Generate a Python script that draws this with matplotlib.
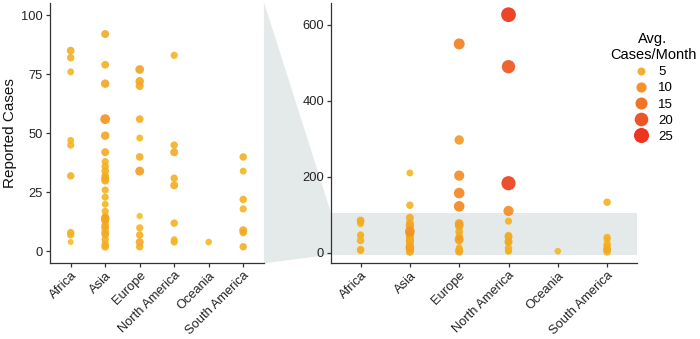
import numpy as np
import matplotlib
matplotlib.use('Agg')
import matplotlib.pyplot as plt
from matplotlib.colors import LinearSegmentedColormap, Normalize
from matplotlib.lines import Line2D
from matplotlib.patches import Polygon, Rectangle

plt.rcParams['font.family'] = ['Liberation Sans', 'DejaVu Sans']

# --- data ------------------------------------------------------------------
continents = ['Africa', 'Asia', 'Europe', 'North America', 'Oceania', 'South America']

point_continent = (
    ['Africa'] * 9
    + ['Asia'] * 28
    + ['Europe'] * 17
    + ['North America'] * 12
    + ['Oceania'] * 1
    + ['South America'] * 8
)
reported_cases = [
    # Africa
    85, 82, 76, 47, 45, 32, 8, 7, 4,
    # Asia
    210, 125, 92, 79, 71, 56, 49, 42, 38, 36, 34, 32, 31, 30, 26, 23, 20,
    17, 15, 14, 13, 11, 10, 8, 7, 5, 3, 2,
    # Europe
    550, 297, 203, 157, 122, 77, 72, 70, 56, 48, 40, 34, 15, 10, 7, 4, 2,
    # North America
    627, 490, 183, 110, 83, 45, 42, 31, 28, 12, 5, 4,
    # Oceania
    4,
    # South America
    133, 40, 34, 22, 18, 9, 8, 2,
]
avg_cases_month = [
    # Africa
    4.5, 4, 3, 3, 3.5, 4, 4, 3.5, 1.5,
    # Asia
    3, 4, 5, 4.5, 6, 9, 6, 5, 3.5, 4, 4.5, 4, 5, 5, 3.5, 3.5, 3,
    3.5, 3, 6.5, 5, 4.5, 5, 5, 4, 4, 4, 4.5,
    # Europe
    12, 8, 10, 11, 11, 6.5, 6, 5, 4.5, 3, 4.5, 7, 2, 3.5, 4, 5, 4,
    # North America
    24, 19, 22, 10, 3.5, 4, 5, 4, 5, 4, 3, 3.5,
    # Oceania
    2.5,
    # South America
    4, 4, 3, 4, 3.5, 5, 4, 4,
]
legend_values = [5, 10, 15, 20, 25]

# --- styling ----------------------------------------------------------------
cmap = LinearSegmentedColormap.from_list(
    'cases', [(0.0, '#F5C21F'), (0.16, '#F3AA22'), (0.36, '#F38B1F'),
              (0.56, '#F16B1C'), (0.76, '#EE4B18'), (0.96, '#EA2A12'),
              (1.0, '#E92510')])
norm = Normalize(vmin=1, vmax=26)


def msize(v):
    return 33 + (np.asarray(v, dtype=float) - 5) * 4.2


AXIS_COLOR = '#333333'
BAND_COLOR = '#E4E9E9'
TICK_FS = 9.3

x = np.array([continents.index(c) for c in point_continent])
y = np.array(reported_cases, dtype=float)
v = np.array(avg_cases_month, dtype=float)
order = np.argsort(v)

fig = plt.figure(figsize=(7.0, 3.39), dpi=100)
W, H = 700, 339
ax_l = fig.add_axes([50 / W, 1 - 263.3 / H, 213.9 / W, 260 / H])
ax_r = fig.add_axes([331 / W, 1 - 263.3 / H, 305.7 / W, 260 / H])

zoom_lo, zoom_hi = -5, 105

for ax in (ax_l, ax_r):
    ax.scatter(x[order], y[order], s=msize(v[order]), c=v[order], cmap=cmap,
               norm=norm, alpha=0.9, linewidths=0, zorder=3)
    ax.set_xlim(-0.6, len(continents) - 0.4)
    ax.set_xticks(range(len(continents)))
    ax.set_xticklabels(continents, rotation=45, ha='right',
                       rotation_mode='anchor', fontsize=TICK_FS, color='#222222')
    for s in ('top', 'right'):
        ax.spines[s].set_visible(False)
    for s in ('left', 'bottom'):
        ax.spines[s].set_color(AXIS_COLOR)
        ax.spines[s].set_linewidth(0.9)
    ax.tick_params(length=3, width=0.9, color=AXIS_COLOR, labelsize=TICK_FS,
                   labelcolor='#222222', pad=2)
    ax.tick_params(axis='x', pad=1.5)

ax_l.set_ylim(zoom_lo, zoom_hi)
ax_l.set_yticks([0, 25, 50, 75, 100])
ax_l.set_ylabel('Reported Cases', fontsize=11, color='#111111', labelpad=3)

ax_r.set_ylim(-28, 657)
ax_r.set_yticks([0, 200, 400, 600])
ax_r.add_patch(Rectangle((0, zoom_lo), 1, zoom_hi - zoom_lo,
                         transform=ax_r.get_yaxis_transform(),
                         facecolor=BAND_COLOR, edgecolor='none', zorder=1))

# zoom connector between panels, drawn beneath both axes
fig.canvas.draw()
inv = fig.transFigure.inverted()
p_tl = inv.transform(ax_l.transAxes.transform((1.0, 1.005)))
p_bl = inv.transform(ax_l.transAxes.transform((1.0, 0.0)))
p_tr = inv.transform(ax_r.transData.transform((-0.6, zoom_hi)))
p_br = inv.transform(ax_r.transData.transform((-0.6, zoom_lo)))
fig.patches.append(Polygon([p_tl, p_tr, p_br, p_bl], closed=True,
                           transform=fig.transFigure, facecolor=BAND_COLOR,
                           edgecolor='none', zorder=-5))
for ax in (ax_l, ax_r):
    ax.patch.set_alpha(0)

# size/colour legend
handles = [Line2D([], [], linestyle='none', marker='o',
                  markersize=np.sqrt(msize(val)), markerfacecolor=cmap(norm(val)),
                  markeredgewidth=0, alpha=0.95)
           for val in legend_values]
leg = fig.legend(handles, [str(val) for val in legend_values],
                 title='Avg.\nCases/Month', loc='upper center',
                 bbox_to_anchor=(653 / W, 1 - 20 / H), frameon=False,
                 fontsize=9.5, title_fontsize=10.5, alignment='center',
                 handletextpad=0.7, labelspacing=0.3, handlelength=1.2)
leg.get_title().set_multialignment('center')

fig.savefig('out.png', dpi=100)
